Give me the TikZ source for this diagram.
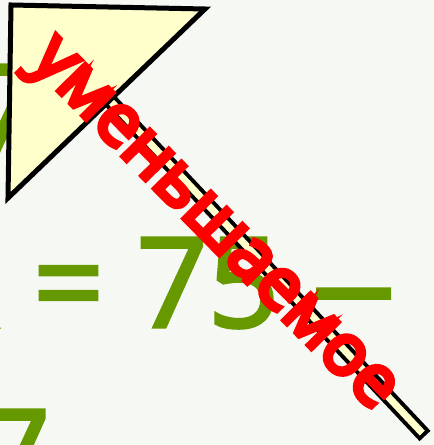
\documentclass[tikz,border=0pt]{standalone}
\usepackage{fontspec}
\usepackage{xcolor}
\usepackage{tikz}
\usetikzlibrary{calc}
\setmainfont{Open Sans}
\newfontfamily\exprfont[FakeBold=2.5]{Open Sans}
\newfontfamily\markfont[FakeBold=7]{Open Sans}
\definecolor{pagebg}{RGB}{246, 248, 243}
\definecolor{exprgreen}{RGB}{102, 153, 0}
\definecolor{flagyellow}{RGB}{255, 255, 204}
\definecolor{markred}{RGB}{255, 0, 0}

\begin{document}
\begin{tikzpicture}[x=1bp, y=-1bp,
  expr/.style={inner sep=0pt, anchor=base west, text=exprgreen, font=\exprfont\fontsize{124.7bp}{130bp}\selectfont},
  flag/.style={draw=black, line width=5bp, fill=flagyellow}]
  \fill[pagebg] (0,0) rectangle (434,445);
  \useasboundingbox (0,0) rectangle (434,445);
  \node[expr] (topseven) at (-31,154) {7};
  \node[expr] (eqline) at (-65,327) {x = 75 \scalebox{1.35}[1]{–}};
  \node[expr] (lowseven) at (-21,499) {7};
  % pointer stick under the flag
  \coordinate (poletop) at (100,90);
  \coordinate (poletip) at (425,436);
  \draw[black, line width=15bp] (poletop) -- (poletip);
  \draw[flagyellow, line width=7bp, shorten >=4bp] (poletop) -- (poletip);
  \draw[flag] (11,5) -- (205,9) -- (8,198) -- cycle;
  \node[rotate=-45.5, inner sep=0pt, text=markred, font=\markfont\fontsize{71bp}{80bp}\selectfont] (minuend) at (209,229) {уменьшаемое};
\end{tikzpicture}
\end{document}
